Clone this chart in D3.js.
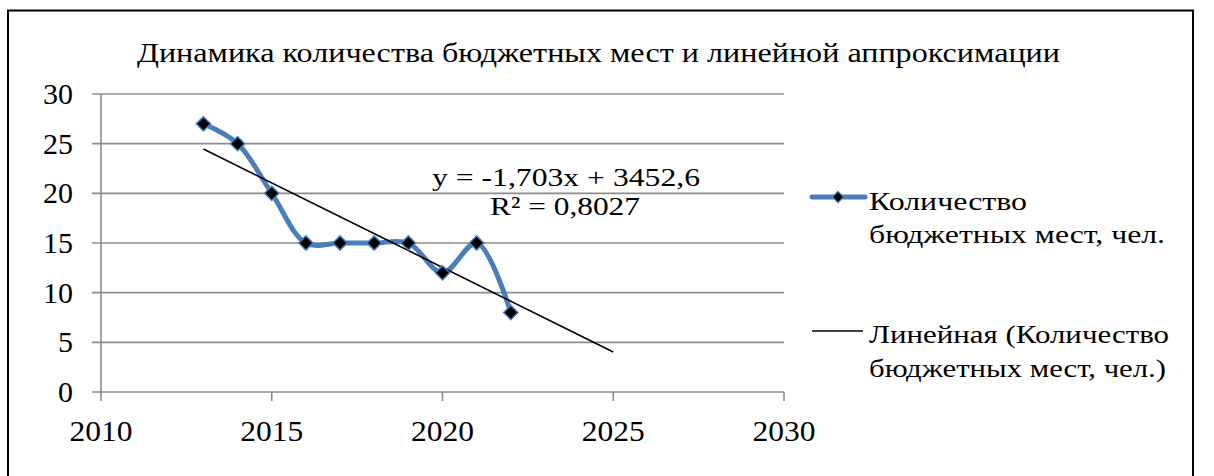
<!DOCTYPE html>
<html><head><meta charset="utf-8">
<script src="https://cdn.jsdelivr.net/npm/d3@7"></script>
<style>body{margin:0;background:#fff}svg{display:block}</style>
</head><body>
<script>
const years = [2013, 2014, 2015, 2016, 2017, 2018, 2019, 2020, 2021, 2022];
const places = [27, 25, 20, 15, 15, 15, 15, 12, 15, 8];
const trendStartEnd = [2013, 2025];
const trendSlope = -1.703, trendIntercept = 3452.6;
const xTicks = [2010, 2015, 2020, 2025, 2030];
const yTicks = [0, 5, 10, 15, 20, 25, 30];
const title = "Динамика количества бюджетных мест и линейной аппроксимации";
const eqLine = "y = -1,703x + 3452,6";
const r2Line = "R² = 0,8027";
const legend1 = ["Количество", "бюджетных мест, чел."];
const legend2 = ["Линейная (Количество", "бюджетных мест, чел.)"];

const W = 1214, H = 476;
const svg = d3.select("body").append("svg").attr("width", W).attr("height", H)
  .style("font-family", "'Times New Roman', 'Liberation Serif', 'DejaVu Serif', serif");
svg.append("rect").attr("x", 8).attr("y", 10.5).attr("width", 1185).attr("height", 500)
  .attr("fill", "#fff").attr("stroke", "#000").attr("stroke-width", 2);

const x = d3.scaleLinear().domain([2010, 2030]).range([101, 784]);
const y = d3.scaleLinear().domain([0, 30]).range([392, 94]);
const grey = "#8c8c8c";

svg.append("g").selectAll("line").data(yTicks).join("line")
  .attr("x1", 92).attr("x2", 784).attr("y1", d => y(d)).attr("y2", d => y(d))
  .attr("stroke", grey).attr("stroke-width", 1.6);
svg.append("line").attr("x1", 101).attr("x2", 101).attr("y1", 94).attr("y2", 392)
  .attr("stroke", grey).attr("stroke-width", 1.6);
svg.append("g").selectAll("line").data(xTicks).join("line")
  .attr("x1", d => x(d)).attr("x2", d => x(d)).attr("y1", 392).attr("y2", 401)
  .attr("stroke", grey).attr("stroke-width", 1.6);

svg.append("g").selectAll("text").data(yTicks).join("text")
  .attr("x", 73).attr("y", d => y(d) + 10).attr("text-anchor", "end")
  .attr("font-size", 29)
  .attr("textLength", d => String(d).length * 15).attr("lengthAdjust", "spacingAndGlyphs")
  .text(d => d);
svg.append("g").selectAll("text").data(xTicks).join("text")
  .attr("x", d => x(d)).attr("y", 441).attr("text-anchor", "middle")
  .attr("font-size", 29)
  .attr("textLength", 63).attr("lengthAdjust", "spacingAndGlyphs")
  .text(d => d);

svg.append("text").attr("x", 137).attr("y", 62).attr("font-size", 27)
  .attr("textLength", 923).attr("lengthAdjust", "spacingAndGlyphs").text(title);

const pts = years.map((yr, i) => [yr, places[i]]);
const line = d3.line().x(d => x(d[0])).y(d => y(d[1])).curve(d3.curveCatmullRom.alpha(0.5));
svg.append("path").attr("d", line(pts)).attr("fill", "none")
  .attr("stroke", "#4a7ebb").attr("stroke-width", 5).attr("stroke-linecap", "round");

const tl = trendStartEnd.map(yr => [yr, trendSlope * yr + trendIntercept]);
svg.append("path").attr("d", d3.line().x(d => x(d[0])).y(d => y(d[1]))(tl))
  .attr("stroke", "#000").attr("stroke-width", 1.6).attr("fill", "none");

const diamond = d3.symbol().type(d3.symbolDiamond2).size(130);
svg.append("g").selectAll("path").data(pts).join("path")
  .attr("d", diamond).attr("transform", d => `translate(${x(d[0])},${y(d[1])})`)
  .attr("fill", "#000").attr("stroke", "#4a7ebb").attr("stroke-width", 1.5);

svg.append("text").attr("x", 432).attr("y", 186).attr("font-size", 26)
  .attr("textLength", 268).attr("lengthAdjust", "spacingAndGlyphs").text(eqLine);
svg.append("text").attr("x", 490).attr("y", 215).attr("font-size", 26)
  .attr("textLength", 150).attr("lengthAdjust", "spacingAndGlyphs").text(r2Line);

svg.append("line").attr("x1", 812).attr("x2", 865).attr("y1", 197).attr("y2", 197)
  .attr("stroke", "#4a7ebb").attr("stroke-width", 5).attr("stroke-linecap", "round");
svg.append("path").attr("d", d3.symbol().type(d3.symbolDiamond2).size(80))
  .attr("transform", "translate(838,197)").attr("fill", "#000")
  .attr("stroke", "#4a7ebb").attr("stroke-width", 1.2);
svg.append("line").attr("x1", 812).attr("x2", 863).attr("y1", 331).attr("y2", 331)
  .attr("stroke", "#000").attr("stroke-width", 1.6);
const lg = svg.append("g").attr("font-size", 25);
lg.append("text").attr("x", 869).attr("y", 210).attr("textLength", 158).attr("lengthAdjust", "spacingAndGlyphs").text(legend1[0]);
lg.append("text").attr("x", 869).attr("y", 243).attr("textLength", 296).attr("lengthAdjust", "spacingAndGlyphs").text(legend1[1]);
lg.append("text").attr("x", 869).attr("y", 343).attr("textLength", 300).attr("lengthAdjust", "spacingAndGlyphs").text(legend2[0]);
lg.append("text").attr("x", 869).attr("y", 377).attr("textLength", 297).attr("lengthAdjust", "spacingAndGlyphs").text(legend2[1]);
</script>
</body></html>
